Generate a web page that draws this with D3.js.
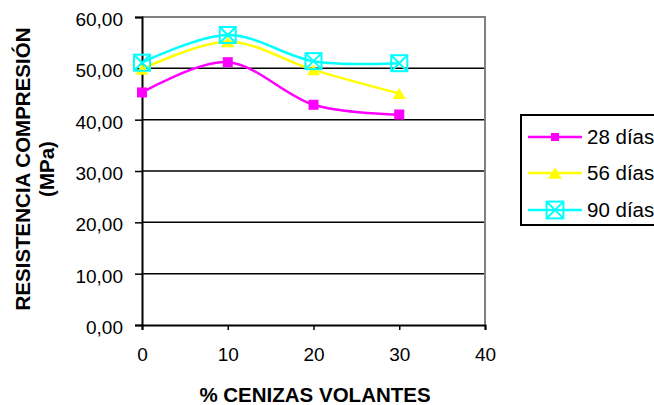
<!DOCTYPE html>
<html>
<head>
<meta charset="utf-8">
<script src="https://cdn.jsdelivr.net/npm/d3@7"></script>
<style>
  html, body { margin: 0; padding: 0; background: #fff; }
  svg { display: block; font-family: "Liberation Sans", Arial, sans-serif; }
</style>
</head>
<body>
<svg id="chart" width="654" height="405"></svg>
<script>
// Fly ash content (%) and compressive strength (MPa) at each curing age
const ashPercent = [0, 10, 20, 30];
const strength28 = [45.3, 51.2, 42.9, 41.0];
const strength56 = [49.8, 55.2, 49.7, 45.1];
const strength90 = [51.1, 56.5, 51.4, 51.0];
const seriesNames = ["28 días", "56 días", "90 días"];
const yTicks = [0, 10, 20, 30, 40, 50, 60];
const xTicks = [0, 10, 20, 30, 40];

const series = [
  { name: seriesNames[0], values: strength28, color: "#ff00ff", marker: "square" },
  { name: seriesNames[1], values: strength56, color: "#ffff00", marker: "triangle" },
  { name: seriesNames[2], values: strength90, color: "#00ffff", marker: "boxX" }
];

const svg = d3.select("#chart");
const plot = { left: 142, right: 485, top: 17, bottom: 325 };

const x = d3.scaleLinear().domain([0, 40]).range([plot.left, plot.right]);
const y = d3.scaleLinear().domain([0, 60]).range([plot.bottom, plot.top]);
const fmt = v => d3.format(".2f")(v).replace(".", ",");

// Horizontal gridlines
svg.append("g").selectAll("line")
  .data(yTicks.filter(t => t > 0 && t < 60))
  .join("line")
  .attr("x1", plot.left).attr("x2", plot.right)
  .attr("y1", d => y(d)).attr("y2", d => y(d))
  .attr("stroke", "#000").attr("stroke-width", 1.5);

// Plot-area frame (top and right edges in grey)
svg.append("path")
  .attr("d", `M${plot.left},${plot.top}H${plot.right}V${plot.bottom}`)
  .attr("fill", "none").attr("stroke", "#808080").attr("stroke-width", 2);

// Y axis
const yAxis = svg.append("g")
  .attr("transform", `translate(${plot.left},0)`)
  .call(d3.axisLeft(y).tickValues(yTicks).tickFormat(fmt).tickSize(7).tickPadding(12));
yAxis.select(".domain").attr("stroke", "#000").attr("stroke-width", 2);
yAxis.selectAll(".tick line").attr("stroke", "#000").attr("stroke-width", 1.5);
yAxis.selectAll(".tick text")
  .attr("font-size", 19).attr("fill", "#000").attr("font-family", "Liberation Sans, Arial, sans-serif")
  .attr("dy", "0.45em");

// X axis
const xAxis = svg.append("g")
  .attr("transform", `translate(0,${plot.bottom})`)
  .call(d3.axisBottom(x).tickValues(xTicks).tickFormat(d3.format("d")).tickSize(5).tickPadding(18));
xAxis.select(".domain").attr("stroke", "#000").attr("stroke-width", 2);
xAxis.selectAll(".tick line").attr("stroke", "#000").attr("stroke-width", 1.5);
xAxis.selectAll(".tick text")
  .attr("font-size", 19).attr("fill", "#000").attr("font-family", "Liberation Sans, Arial, sans-serif");

// Axis titles
svg.append("text")
  .attr("x", 315).attr("y", 402)
  .attr("text-anchor", "middle")
  .attr("font-size", 20.5).attr("font-weight", "bold")
  .text("% CENIZAS VOLANTES");

const yTitle = svg.append("text")
  .attr("transform", "translate(30,169) rotate(-90)")
  .attr("text-anchor", "middle")
  .attr("font-size", 20.5).attr("font-weight", "bold");
yTitle.append("tspan").attr("x", 0).attr("y", 0).text("RESISTENCIA COMPRESIÓN");
yTitle.append("tspan").attr("x", 0).attr("y", 24).text("(MPa)");

// Marker drawing
function drawMarker(g, type, color, cx, cy, scale) {
  if (type === "square") {
    const s = 10 * scale;
    g.append("rect").attr("x", cx - s / 2).attr("y", cy - s / 2)
      .attr("width", s).attr("height", s).attr("fill", color);
  } else if (type === "triangle") {
    const w = 13 * scale, h = 11 * scale;
    g.append("path")
      .attr("d", `M${cx},${cy - h / 2}L${cx + w / 2},${cy + h / 2}L${cx - w / 2},${cy + h / 2}Z`)
      .attr("fill", color);
  } else {
    const s = 16 * scale;
    const gg = g.append("g").attr("fill", "none").attr("stroke", color).attr("stroke-width", 2);
    gg.append("rect").attr("x", cx - s / 2).attr("y", cy - s / 2).attr("width", s).attr("height", s);
    gg.append("path")
      .attr("d", `M${cx - s / 2},${cy - s / 2}L${cx + s / 2},${cy + s / 2}M${cx + s / 2},${cy - s / 2}L${cx - s / 2},${cy + s / 2}`);
  }
}

// Smoothed series lines with markers
const line = d3.line()
  .x((d, i) => x(ashPercent[i]))
  .y(d => y(d))
  .curve(d3.curveCatmullRom.alpha(0));

series.forEach(s => {
  const g = svg.append("g");
  g.append("path").attr("d", line(s.values))
    .attr("fill", "none").attr("stroke", s.color).attr("stroke-width", 2.5);
  s.values.forEach((v, i) => drawMarker(g, s.marker, s.color, x(ashPercent[i]), y(v), 1));
});

// Legend
const legend = svg.append("g");
legend.append("rect")
  .attr("x", 521).attr("y", 115).attr("width", 140).attr("height", 110)
  .attr("fill", "#fff").attr("stroke", "#000").attr("stroke-width", 2);
const legendY = [137, 173, 210];
series.forEach((s, i) => {
  const ly = legendY[i];
  legend.append("line").attr("x1", 528).attr("x2", 582).attr("y1", ly).attr("y2", ly)
    .attr("stroke", s.color).attr("stroke-width", 2.5);
  drawMarker(legend, s.marker, s.color, 555, ly, s.marker === "square" ? 0.8 : 1.05);
  legend.append("text").attr("x", 587).attr("y", ly + 7)
    .attr("font-size", 20.5).attr("fill", "#000").text(s.name);
});
</script>
</body>
</html>
